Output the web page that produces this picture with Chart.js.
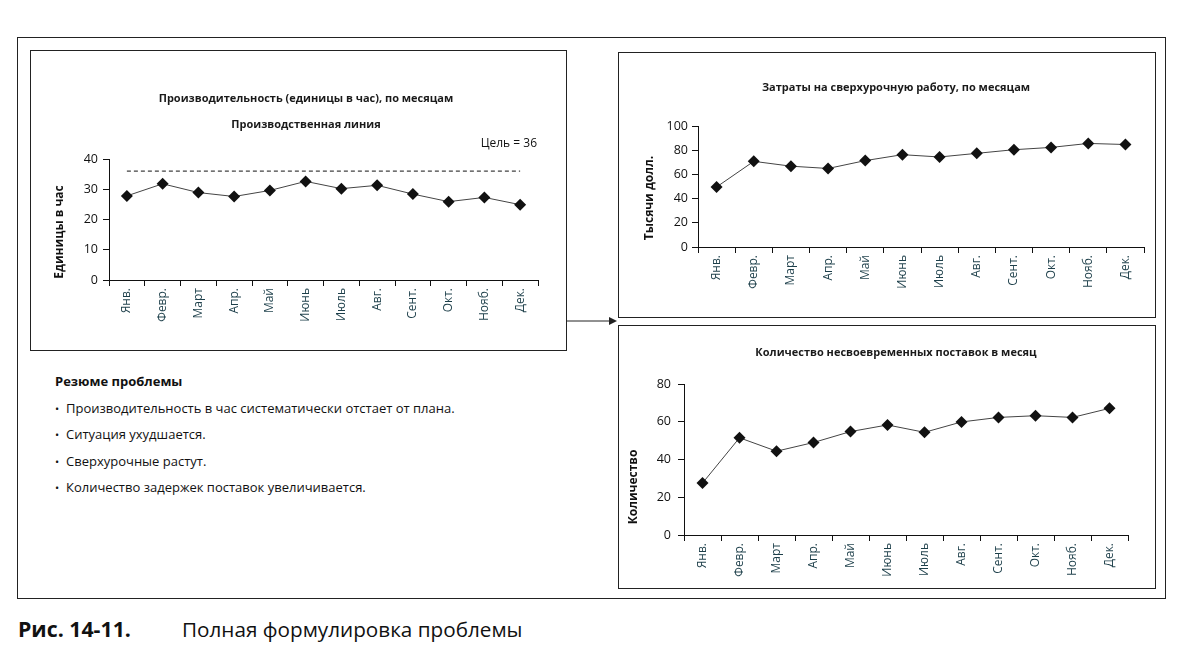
<!DOCTYPE html>
<html lang="ru">
<head>
<meta charset="utf-8">
<script src="https://cdn.jsdelivr.net/npm/chart.js@4.4.1/dist/chart.umd.min.js"></script>
<style>
  body { margin: 0; background: #fff; width: 1181px; height: 655px; position: relative; overflow: hidden; font-family: 'Open Sans', sans-serif; color: #111; }
  .frame { position: absolute; left: 17px; top: 37px; width: 1147px; height: 560px; border: 1px solid #222; }
  .box { position: absolute; border: 1px solid #222; background: #fff; }
  .box canvas { display: block; }
  #box-prod { left: 30px; top: 50px; width: 535px; height: 299px; }
  #box-over { left: 618px; top: 52px; width: 536px; height: 264px; }
  #box-late { left: 618px; top: 325px; width: 536px; height: 262px; }
  #arrow { position: absolute; left: 565px; top: 314px; }
  .summary { position: absolute; left: 55px; top: 372px; font-size: 13px; }
  .summary h4 { margin: 0 0 8px 0; font-size: 13px; font-weight: 700; }
  .summary ul { margin: 0; padding: 0; list-style: none; }
  .summary li { height: 26.3px; line-height: 20px; }
  .summary li::before { content: '•'; display: inline-block; width: 11px; font-size: 11px; }
  .caption { position: absolute; left: 18px; top: 614px; font-size: 20.7px; white-space: nowrap; }
  .caption b { display: inline-block; width: 164px; font-size: 21.3px; }
</style>
</head>
<body>
<div class="frame"></div>

<div class="box" id="box-prod"><canvas id="prodChart" width="535" height="299"></canvas></div>
<div class="box" id="box-over"><canvas id="overChart" width="536" height="264"></canvas></div>
<div class="box" id="box-late"><canvas id="lateChart" width="536" height="262"></canvas></div>

<svg id="arrow" width="54" height="14">
  <line x1="1" y1="7" x2="46" y2="7" stroke="#222" stroke-width="1"/>
  <polygon points="44,3 52,7 44,11" fill="#222"/>
</svg>

<div class="summary">
  <h4>Резюме проблемы</h4>
  <ul>
    <li>Производительность в час систематически отстает от плана.</li>
    <li>Ситуация ухудшается.</li>
    <li>Сверхурочные растут.</li>
    <li>Количество задержек поставок увеличивается.</li>
  </ul>
</div>

<div class="caption"><b>Рис. 14-11.</b>Полная формулировка проблемы</div>

<script>
const months = ['Янв.', 'Февр.', 'Март', 'Апр.', 'Май', 'Июнь', 'Июль', 'Авг.', 'Сент.', 'Окт.', 'Нояб.', 'Дек.'];

// units per hour, production line
const unitsPerHour = [27.8, 31.8, 28.9, 27.6, 29.6, 32.6, 30.2, 31.3, 28.4, 25.9, 27.3, 24.9];
const targetUnits = 36;
const prodTicks = [0, 10, 20, 30, 40];

// overtime, thousand dollars
const overtimeCost = [49.6, 70.8, 66.8, 64.9, 71.4, 76.3, 74.4, 77.4, 80.4, 82.3, 85.6, 84.7];
const overTicks = [0, 20, 40, 60, 80, 100];

// late deliveries per month
const lateDeliveries = [27.5, 51.5, 44.4, 49, 54.8, 58.3, 54.4, 59.9, 62.3, 63.2, 62.3, 67.1];
const lateTicks = [0, 20, 40, 60, 80];

Chart.defaults.font.family = "'Open Sans', sans-serif";
Chart.defaults.color = '#111';
Chart.defaults.animation = false;

const markerSeries = (values) => ({
    data: values,
    borderColor: '#444',
    borderWidth: 1,
    tension: 0,
    pointStyle: 'rectRot',
    pointRadius: 6,
    pointBackgroundColor: '#111',
    pointBorderColor: '#111',
    pointBorderWidth: 0
});

// titles are placed off-centre in the original, so draw them ourselves
const panelText = {
    id: 'panelText',
    afterDraw(chart, args, opts) {
        const ctx = chart.ctx;
        (opts.items || []).forEach(it => {
            ctx.save();
            ctx.font = it.font;
            ctx.fillStyle = it.color || '#1a1a1a';
            ctx.textAlign = it.align || 'center';
            ctx.textBaseline = 'middle';
            ctx.translate(it.x, it.y);
            if (it.rotate) ctx.rotate(-Math.PI / 2);
            ctx.fillText(it.text, 0, 0);
            ctx.restore();
        });
    }
};

const boldFont = (size) => "bold " + size + "px 'Open Sans'";

function buildOptions(cfg) {
    return {
        responsive: false,
        layout: { padding: { left: 0, right: cfg.padRight, top: cfg.padTop, bottom: 0 } },
        plugins: {
            legend: { display: false },
            tooltip: { enabled: false },
            title: { display: false },
            panelText: { items: cfg.texts }
        },
        scales: {
            x: {
                offset: true,
                afterFit: (s) => { s.height = cfg.xHeight; },
                grid: { display: true, offset: true, drawOnChartArea: false, drawTicks: true, tickLength: 6, color: '#111', lineWidth: 1 },
                border: { display: true, color: '#111', width: 1 },
                ticks: { autoSkip: false, minRotation: 90, maxRotation: 90, padding: 2, color: '#1d3f4a', font: { size: 12 } }
            },
            y: {
                min: cfg.ticks[0],
                max: cfg.ticks[cfg.ticks.length - 1],
                afterFit: (s) => { s.width = cfg.yWidth; },
                afterBuildTicks: (s) => { s.ticks = cfg.ticks.map(v => ({ value: v })); },
                grid: { display: true, drawOnChartArea: false, drawTicks: true, tickLength: 6, color: '#111', lineWidth: 1 },
                border: { display: true, color: '#111', width: 1 },
                ticks: { padding: cfg.tickPad, color: '#111', font: { size: 12.5 } }
            }
        }
    };
}

// "Цель = 36" note above the dashed target line
const targetLabel = {
    id: 'targetLabel',
    afterDatasetsDraw(chart) {
        const { ctx, chartArea, scales } = chart;
        const y = scales.y.getPixelForValue(targetUnits);
        ctx.save();
        ctx.font = "12px 'Open Sans'";
        ctx.fillStyle = '#111';
        ctx.textAlign = 'right';
        ctx.textBaseline = 'middle';
        ctx.fillText('Цель = ' + targetUnits, chartArea.right - 1, y - 28);
        ctx.restore();
    }
};

new Chart(document.getElementById('prodChart'), {
    type: 'line',
    data: {
        labels: months,
        datasets: [
            markerSeries(unitsPerHour),
            {
                data: months.map(() => targetUnits),
                borderColor: '#111',
                borderWidth: 1,
                borderDash: [4, 3],
                pointRadius: 0
            }
        ]
    },
    options: buildOptions({
        texts: [
            { text: 'Производительность (единицы в час), по месяцам', x: 275, y: 48, font: boldFont(11) },
            { text: 'Производственная линия', x: 275, y: 74, font: boldFont(11) },
            { text: 'Единицы в час', x: 29, y: 181, font: boldFont(12), rotate: true, color: '#111' }
        ],
        padTop: 108,
        padRight: 28,
        xHeight: 70,
        yWidth: 78,
        ticks: prodTicks,
        tickPad: 5
    }),
    plugins: [targetLabel, panelText]
});

new Chart(document.getElementById('overChart'), {
    type: 'line',
    data: { labels: months, datasets: [markerSeries(overtimeCost)] },
    options: buildOptions({
        texts: [
            { text: 'Затраты на сверхурочную работу, по месяцам', x: 277, y: 35, font: boldFont(11) },
            { text: 'Тысячи долл.', x: 31, y: 145, font: boldFont(12), rotate: true, color: '#111' }
        ],
        padTop: 73,
        padRight: 11,
        xHeight: 70,
        yWidth: 79,
        ticks: overTicks,
        tickPad: 4
    }),
    plugins: [panelText]
});

new Chart(document.getElementById('lateChart'), {
    type: 'line',
    data: { labels: months, datasets: [markerSeries(lateDeliveries)] },
    options: buildOptions({
        texts: [
            { text: 'Количество несвоевременных поставок в месяц', x: 277, y: 27, font: boldFont(11) },
            { text: 'Количество', x: 15, y: 161, font: boldFont(12), rotate: true, color: '#111' }
        ],
        padTop: 58,
        padRight: 27,
        xHeight: 53,
        yWidth: 65,
        ticks: lateTicks,
        tickPad: 7
    }),
    plugins: [panelText]
});
</script>
</body>
</html>
